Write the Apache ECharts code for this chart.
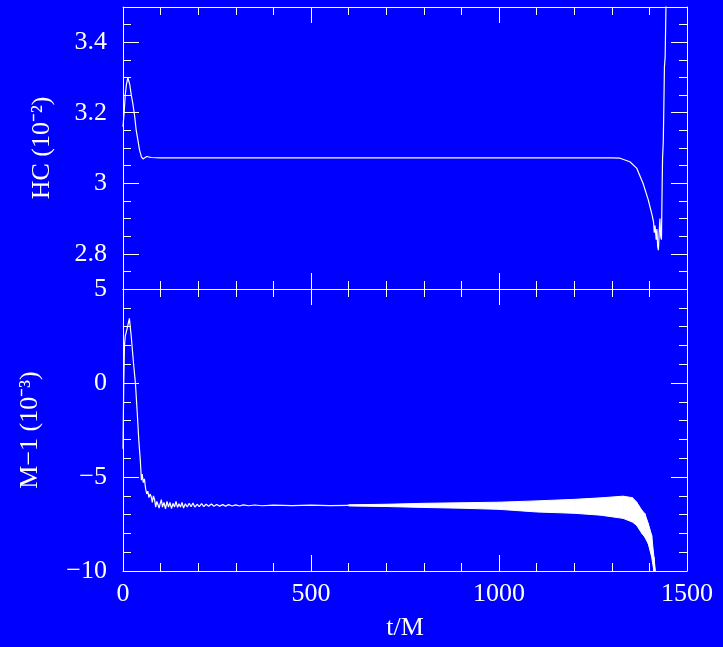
<!DOCTYPE html>
<html>
<head>
<meta charset="utf-8">
<title>HC / M-1 vs t/M</title>
<script src="https://cdn.jsdelivr.net/npm/echarts@6/dist/echarts.min.js"></script>
<style>
    html, body {
        margin: 0;
        padding: 0;
        background: #0000ff;
    }
    #chart {
        width: 723px;
        height: 647px;
    }
</style>
</head>
<body>
<div id="chart"></div>
<script>
// top panel: HC (10^-2) vs t/M
const hcData = [
    [0, 3.16], [3, 3.2], [6, 3.25], [9, 3.28], [13, 3.3], [18, 3.28], [22, 3.25],
    [26, 3.227], [31, 3.19], [35, 3.151], [40, 3.12], [44, 3.094], [49, 3.075],
    [53, 3.069], [58, 3.071], [63, 3.076], [68, 3.075], [75, 3.073], [100, 3.072],
    [200, 3.072], [400, 3.072], [600, 3.072], [800, 3.072], [1000, 3.072],
    [1200, 3.072], [1300, 3.072], [1322, 3.071], [1348, 3.061], [1366, 3.043],
    [1383, 3.0], [1397, 2.953], [1408, 2.906], [1411, 2.89], [1413, 2.86],
    [1415, 2.88], [1418, 2.84], [1420, 2.87], [1422, 2.82], [1424, 2.81],
    [1426, 2.86], [1428, 2.9], [1430, 2.85], [1432, 2.84], [1434, 3.0],
    [1435, 3.07], [1437, 3.12], [1440, 3.33], [1442, 3.36], [1444, 3.5], [1446, 3.56]
]

// bottom panel: M-1 (10^-3) vs t/M, thin part of the curve
const massData = [
    [0, -3.5], [2, 0], [4, 2.0], [6, 2.5], [8, 2.65], [11, 2.9], [13, 3.08],
    [17, 3.44], [22, 2.46], [28, 1.04], [33, 0], [38, -1.62], [42, -3.04],
    [46, -4.1], [49, -5.17], [51, -4.85], [54, -5.3], [57, -5.1], [60, -5.6],
    [63, -5.9], [66, -5.75], [69, -6.1], [72, -5.9], [75, -6.05], [78, -6.35],
    [81, -6.0], [84, -6.2], [87, -6.6], [90, -6.3], [93, -6.2], [96, -6.65],
    [99, -6.4], [102, -6.2], [105, -6.6], [109, -6.35], [113, -6.7], [117, -6.3],
    [121, -6.6], [125, -6.35], [129, -6.68], [133, -6.4], [137, -6.6], [141, -6.3],
    [145, -6.62], [149, -6.42], [153, -6.6], [157, -6.35], [161, -6.65], [166, -6.42],
    [171, -6.6], [176, -6.4], [181, -6.58], [186, -6.38], [191, -6.6], [197, -6.45],
    [203, -6.58], [209, -6.42], [215, -6.57], [221, -6.45], [228, -6.56], [235, -6.44],
    [242, -6.56], [249, -6.46], [257, -6.55], [265, -6.47], [273, -6.55], [281, -6.47],
    [290, -6.54], [300, -6.48], [310, -6.54], [320, -6.48], [335, -6.53], [350, -6.49],
    [370, -6.53], [400, -6.5], [450, -6.52], [500, -6.5], [550, -6.52], [600, -6.51],
    [650, -6.51], [700, -6.51]
]

// bottom panel: the fast oscillation later on shows as a filled band (low / high edges)
const bandT = [600, 700, 800, 900, 1000, 1100, 1200, 1270, 1330, 1355, 1366, 1380, 1388, 1397, 1406, 1412, 1416]
const bandLow = [-6.54, -6.57, -6.62, -6.66, -6.72, -6.86, -6.93, -7.03, -7.2, -7.4, -7.57, -8.0, -8.2, -8.55, -9.25, -10, -10]
const bandHigh = [-6.48, -6.45, -6.4, -6.37, -6.34, -6.27, -6.19, -6.11, -6.02, -6.1, -6.33, -6.77, -6.95, -7.48, -8.1, -9.25, -10]

// ticks and labels
const xTicks = [0, 500, 1000, 1500]
const hcLabels = [2.8, 3, 3.2, 3.4]
const massLabels = [-10, -5, 0, 5]

const FONT = 'Liberation Serif'
const WHITE = '#ffffff'

const chart = echarts.init(document.getElementById('chart'))

function xAxisFor(grid, pos, showLabels) {
    return {
        type: 'value',
        gridIndex: grid,
        position: pos,
        min: xTicks[0],
        max: xTicks[xTicks.length - 1],
        interval: 500,
        name: showLabels ? 't/M' : '',
        nameLocation: 'middle',
        nameGap: 44,
        nameTextStyle: { color: WHITE, fontFamily: FONT, fontSize: 26 },
        axisLine: { show: true, onZero: false, lineStyle: { color: WHITE, width: 1 } },
        axisTick: { show: true, inside: true, length: 16, lineStyle: { color: WHITE, width: 1 } },
        minorTick: { show: true, splitNumber: 5, length: 8, lineStyle: { color: WHITE, width: 1 } },
        axisLabel: {
            show: showLabels,
            margin: 10,
            color: WHITE,
            fontFamily: FONT,
            fontSize: 26,
            formatter: (v) => String(v)
        },
        splitLine: { show: false }
    }
}

// top panel y: short ticks every 0.05 on one axis, long ticks on an overlay axis
function hcAxis(pos, major, showLabels) {
    return {
        type: 'value',
        gridIndex: 0,
        position: pos,
        min: 2.7,
        max: 3.5,
        interval: 0.05,
        name: showLabels ? 'HC (10⁻²)' : '',
        nameLocation: 'middle',
        nameGap: 68,
        nameTextStyle: { color: WHITE, fontFamily: FONT, fontSize: 26 },
        axisLine: { show: !major, onZero: false, lineStyle: { color: WHITE, width: 1 } },
        axisTick: major
            ? { show: true, inside: true, length: 16, customValues: hcLabels, lineStyle: { color: WHITE, width: 1 } }
            : { show: true, inside: true, length: 8, lineStyle: { color: WHITE, width: 1 } },
        axisLabel: {
            show: showLabels,
            customValues: hcLabels,
            margin: 16,
            color: WHITE,
            fontFamily: FONT,
            fontSize: 26,
            formatter: (v) => String(Math.round(v * 10) / 10)
        },
        splitLine: { show: false }
    }
}

function massAxis(pos, showLabels) {
    return {
        type: 'value',
        gridIndex: 1,
        position: pos,
        min: massLabels[0],
        max: massLabels[massLabels.length - 1],
        interval: 5,
        name: showLabels ? 'M−1 (10⁻³)' : '',
        nameLocation: 'middle',
        nameGap: 80,
        nameTextStyle: { color: WHITE, fontFamily: FONT, fontSize: 26 },
        axisLine: { show: true, onZero: false, lineStyle: { color: WHITE, width: 1 } },
        axisTick: { show: true, inside: true, length: 16, lineStyle: { color: WHITE, width: 1 } },
        minorTick: { show: true, splitNumber: 5, length: 8, lineStyle: { color: WHITE, width: 1 } },
        axisLabel: {
            show: showLabels,
            margin: 16,
            color: WHITE,
            fontFamily: FONT,
            fontSize: 26,
            formatter: (v) => String(v).replace('-', '−')
        },
        splitLine: { show: false }
    }
}

// one quad per band sample, from this sample to the next one
function renderBand(params, api) {
    const i = params.dataIndexInside
    if (i >= params.dataInsideLength - 1) return
    const t0 = api.value(0, i), lo0 = api.value(1, i), hi0 = api.value(2, i)
    const t1 = api.value(0, i + 1), lo1 = api.value(1, i + 1), hi1 = api.value(2, i + 1)
    return {
        type: 'polygon',
        shape: {
            points: [
                api.coord([t0, lo0]),
                api.coord([t1, lo1]),
                api.coord([t1, hi1]),
                api.coord([t0, hi0])
            ]
        },
        style: { fill: WHITE, stroke: WHITE, lineWidth: 1 }
    }
}

const option = {
    backgroundColor: '#0000ff',
    animation: false,
    grid: [
        { left: 123, right: 36, top: 7, height: 282 },
        { left: 123, right: 36, top: 289, height: 282 }
    ],
    xAxis: [
        xAxisFor(0, 'bottom', false),
        xAxisFor(0, 'top', false),
        xAxisFor(1, 'bottom', true),
        xAxisFor(1, 'top', false)
    ],
    yAxis: [
        hcAxis('left', false, true),
        hcAxis('left', true, false),
        hcAxis('right', false, false),
        hcAxis('right', true, false),
        massAxis('left', true),
        massAxis('right', false)
    ],
    series: [
        {
            type: 'line',
            xAxisIndex: 0,
            yAxisIndex: 0,
            data: hcData,
            showSymbol: false,
            lineStyle: { color: WHITE, width: 1.2 }
        },
        {
            type: 'line',
            xAxisIndex: 2,
            yAxisIndex: 4,
            data: massData,
            showSymbol: false,
            lineStyle: { color: WHITE, width: 1.2 }
        },
        {
            type: 'custom',
            xAxisIndex: 2,
            yAxisIndex: 4,
            data: bandT.map((t, i) => [t, bandLow[i], bandHigh[i]]),
            encode: { x: 0, y: [1, 2] },
            renderItem: renderBand
        }
    ]
}

chart.setOption(option)
</script>
</body>
</html>
